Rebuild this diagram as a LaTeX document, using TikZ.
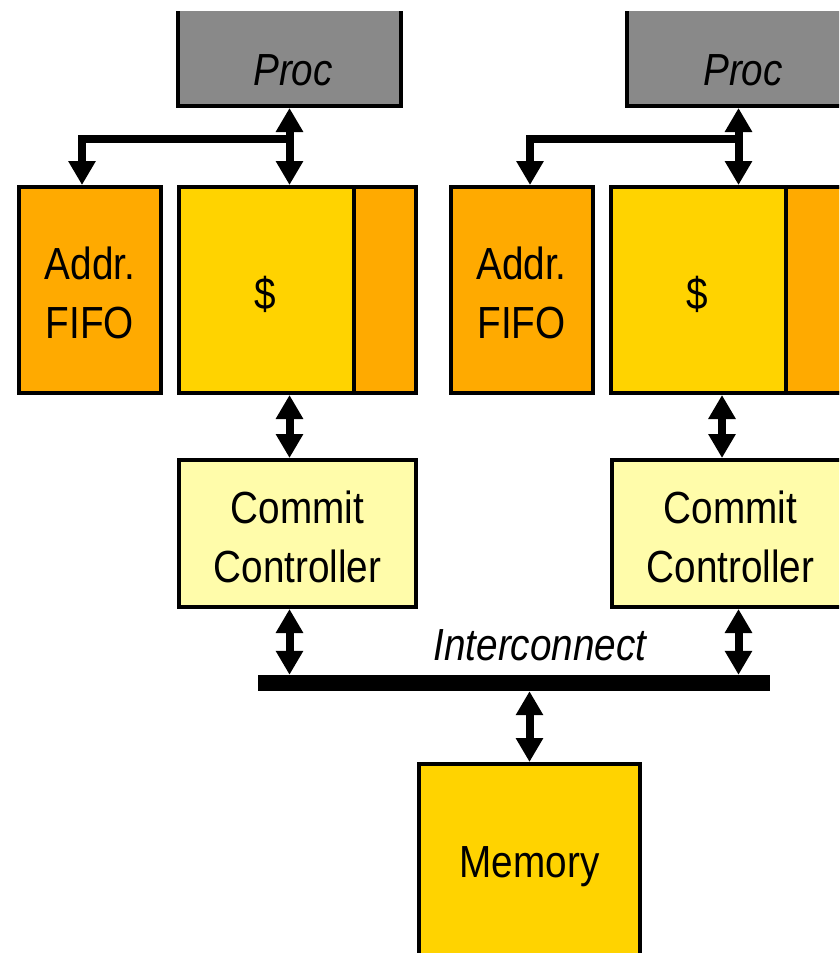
\documentclass[tikz,border=0pt]{standalone}
\usepackage{fontspec}
\newfontfamily\diagfont{Liberation Sans}[FakeStretch=0.86]
\usetikzlibrary{arrows.meta,calc}

\definecolor{procgray}{HTML}{898989}
\definecolor{fifoorange}{HTML}{FFAA00}
\definecolor{cacheyellow}{HTML}{FFD300}
\definecolor{commitcream}{HTML}{FFFCAA}

\begin{document}
\begin{tikzpicture}[x=1pt,y=-1pt,
  box/.style={draw=black, line width=4pt, inner sep=0pt},
  lbl/.style={inner sep=0pt, align=center, font=\diagfont\fontsize{45}{59}\selectfont},
  ilbl/.style={lbl, font=\diagfont\itshape\fontsize{45}{59}\selectfont},
  tip/.style={Triangle[width=26pt,length=24pt]},
  bidir/.style={line width=8pt, {Triangle[width=26pt,length=24pt]}-{Triangle[width=26pt,length=24pt]}},
  feed/.style={line width=8pt, line join=miter, -{Triangle[width=26pt,length=24pt]}},
]
\useasboundingbox (0,0) rectangle (839,953);

\begin{scope}
  \clip (0,11) rectangle (839,953);
  % processors (tops run off the top edge)
  \node[box, fill=procgray, minimum width=223pt, minimum height=144pt] (procL) at (289.5,34) {};
  \node[box, fill=procgray, minimum width=223pt, minimum height=144pt] (procR) at (738.5,34) {};

  % address FIFOs
  \node[box, fill=fifoorange, minimum width=142pt, minimum height=206pt] (fifoL) at (90,290) {};
  \node[box, fill=fifoorange, minimum width=142pt, minimum height=206pt] (fifoR) at (521.5,290) {};

  % caches with their orange side strip
  \node[box, fill=cacheyellow, minimum width=237pt, minimum height=206pt] (cacheL) at (297.5,290) {};
  \draw[line width=4pt, fill=fifoorange]
    ($(cacheL.north -| 354,0)+(0,2)$) rectangle ($(cacheL.south east)+(-2,-2)$);
  \node[box, fill=cacheyellow, minimum width=237pt, minimum height=206pt] (cacheR) at (729.5,290) {};
  \draw[line width=4pt, fill=fifoorange]
    ($(cacheR.north -| 786,0)+(0,2)$) rectangle ($(cacheR.south east)+(-2,-2)$);

  % commit controllers
  \node[box, fill=commitcream, minimum width=237pt, minimum height=147pt] (commitL) at (297.5,533.5) {};
  \node[box, fill=commitcream, minimum width=237pt, minimum height=147pt] (commitR) at (730.5,533.5) {};

  % memory (bottom runs off the lower edge)
  \node[box, fill=cacheyellow, minimum width=221pt, minimum height=202pt] (memory) at (529.5,865) {};

  % interconnect bus
  \node[fill=black, inner sep=0pt, minimum width=512pt, minimum height=16pt] (bus) at (514,683) {};
\end{scope}

% labels
\node[ilbl, anchor=base] (procLtxt) at (293,85) {Proc};
\node[ilbl, anchor=base] (procRtxt) at (743,85) {Proc};
\node[lbl] (fifoLtxt) at ($(fifoL)+(0,3)$) {Addr.\\FIFO};
\node[lbl] (fifoRtxt) at ($(fifoR)+(0,3)$) {Addr.\\FIFO};
\node[lbl] (cacheLtxt) at (265.5,294) {\$};
\node[lbl] (cacheRtxt) at (697.5,294) {\$};
\node[lbl] (commitLtxt) at ($(commitL)+(0,3)$) {Commit\\Controller};
\node[lbl] (commitRtxt) at ($(commitR)+(0,3)$) {Commit\\Controller};
\node[lbl, anchor=base] (memtxt) at (529.5,877) {Memory};
\node[ilbl, anchor=base] (bustxt) at (540,660) {Interconnect};

% processor <-> cache, with a branch into the address FIFO
\draw[bidir] (procL.south) -- (procL.south |- cacheL.north);
\coordinate (jL) at (289.5,139);
\draw[feed] (jL) -| ($(fifoL.north)+(-8,0)$);
\draw[bidir] (procR.south) -- (procR.south |- cacheR.north);
\coordinate (jR) at (738.5,139);
\draw[feed] (jR) -| ($(fifoR.north)+(8.5,0)$);

% cache <-> commit controller
\draw[bidir] (cacheL.south -| procL.south) -- (commitL.north -| procL.south);
\coordinate (tapR) at (722,0);
\draw[bidir] (cacheR.south -| tapR) -- (commitR.north -| tapR);

% commit controller <-> interconnect
\draw[bidir] (commitL.south -| procL.south) -- (bus.north -| procL.south);
\draw[bidir] (commitR.south -| procR.south) -- (bus.north -| procR.south);

% interconnect <-> memory
\draw[bidir] (bus.south -| memory.north) -- (memory.north);
\end{tikzpicture}
\end{document}
